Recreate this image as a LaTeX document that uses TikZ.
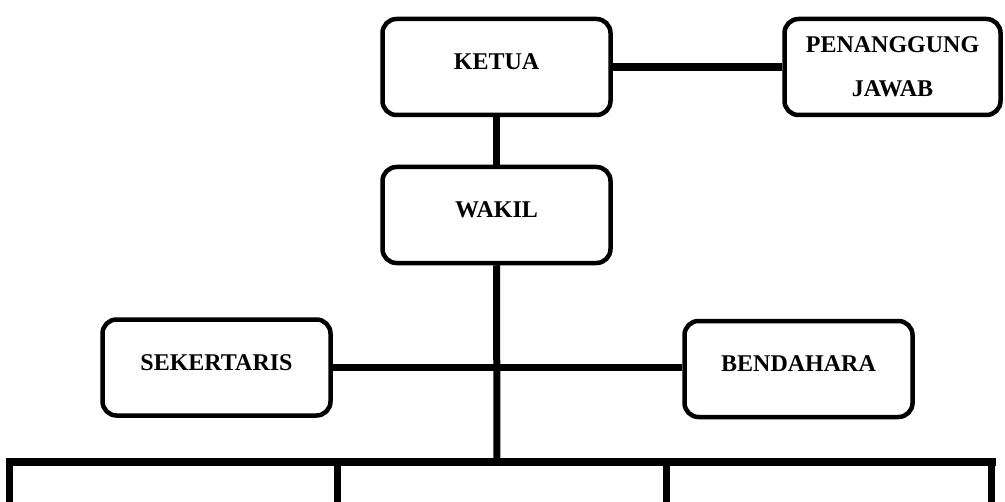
\documentclass[tikz,border=0pt]{standalone}
\usepackage{fontspec}
\setmainfont{Liberation Serif}
\begin{document}
\begin{tikzpicture}[
    x=0.5pt, y=-0.5pt,
    box/.style={rectangle, rounded corners=7pt, draw, line width=2.25pt,
        minimum width=114pt, minimum height=48pt, inner sep=0pt, text depth=5pt,
        align=center, font=\bfseries\fontsize{12}{22}\selectfont},
    link/.style={line width=3.5pt},
    heavy/.style={line width=4pt}
]
\useasboundingbox (0,0) rectangle (1005,502);

\node[box] (ketua) at (496.5,67) {KETUA};
\node[box, minimum width=108pt, text depth=0pt] (pj) at (892.5,67) {PENANGGUNG\\JAWAB};
\node[box] (wakil) at (496.5,215) {WAKIL};
\node[box] (sek) at (216.5,367.5) {SEKERTARIS};
\node[box] (ben) at (798.5,369) {BENDAHARA};

% garis bawah
\coordinate (t1) at (9.5,462);
\coordinate (t2) at (337,462);
\coordinate (hub) at (497,462);
\coordinate (t3) at (666,462);
\coordinate (t4) at (991.5,462);

\draw[heavy] (ketua.east) -- (pj.west);
\draw[link] (ketua.south) -- (wakil.south |- ketua.south) -- (wakil.north);
\draw[link] (wakil.south) -- (hub);
\draw[link] (sek.east) -- (sek.east -| ben.west);
\draw[heavy, line cap=rect] (t1) -- (t4);
\foreach \t in {t1,t2,t3,t4}
    \draw[link] ([yshift=2pt]\t) -- (\t |- 0,502);
\end{tikzpicture}
\end{document}
